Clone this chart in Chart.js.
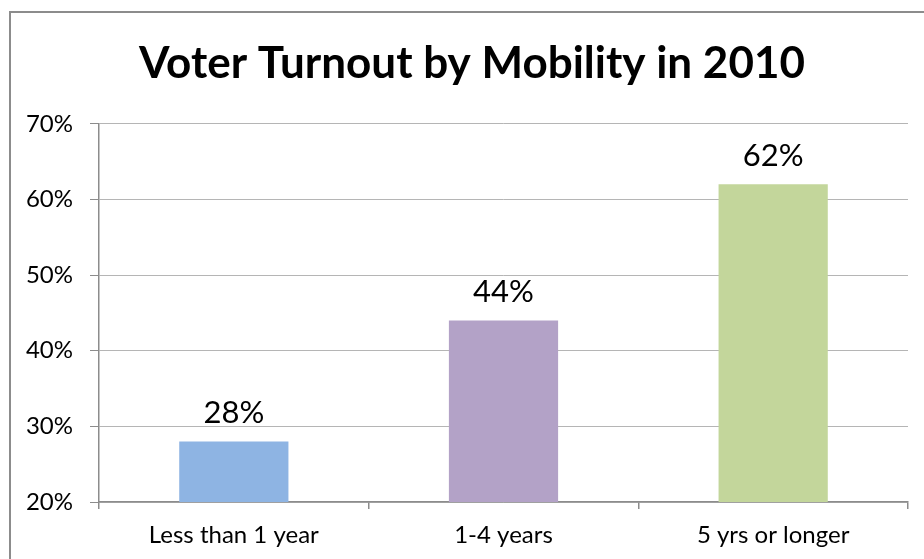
<!DOCTYPE html>
<html>
<head>
<meta charset="utf-8">
<script src="https://cdn.jsdelivr.net/npm/chart.js@4"></script>
<style>
    html, body { margin: 0; padding: 0; background: #fff; overflow: hidden; }
    #frame {
        position: absolute; left: 9px; top: 11px; width: 1000px; height: 1000px;
        border-top: 2px solid #8c8c8c; border-left: 2px solid #8c8c8c;
        pointer-events: none;
    }
    #turnout { position: absolute; left: 0; top: 0; }
</style>
</head>
<body>
<canvas id="turnout" width="924" height="559"></canvas>
<div id="frame"></div>
<script>
const categories = ['Less than 1 year', '1-4 years', '5 yrs or longer'];
const turnout = [28, 44, 62];
const barColors = ['#8EB4E3', '#B3A2C7', '#C3D69B'];
const yTicks = [20, 30, 40, 50, 60, 70];

const fontName = 'Lato, "Open Sans", sans-serif';

// value labels above each bar
const barLabels = {
    id: 'barLabels',
    afterDatasetsDraw(chart) {
        const ctx = chart.ctx;
        const meta = chart.getDatasetMeta(0);
        ctx.save();
        ctx.font = '31px ' + fontName;
        ctx.fillStyle = '#000';
        ctx.textAlign = 'center';
        ctx.textBaseline = 'alphabetic';
        meta.data.forEach((bar, i) => {
            ctx.fillText(turnout[i] + '%', bar.x, bar.y - 18);
        });
        ctx.restore();
    }
};

const ctx = document.getElementById('turnout');
new Chart(ctx, {
    type: 'bar',
    data: {
        labels: categories,
        datasets: [{
            data: turnout,
            backgroundColor: barColors,
            barPercentage: 0.405,
            categoryPercentage: 1
        }]
    },
    options: {
        responsive: false,
        animation: false,
        layout: { padding: { left: 20, right: 0 } },
        plugins: {
            legend: { display: false },
            tooltip: { enabled: false },
            title: {
                display: true,
                text: 'Voter Turnout by Mobility in 2010',
                color: '#000',
                font: { family: fontName, size: 44, weight: 'bold' },
                padding: { top: 37, bottom: 34 }
            }
        },
        scales: {
            y: {
                min: 20,
                max: 70,
                afterBuildTicks: function (scale) {
                    scale.ticks = yTicks.map(v => ({ value: v }));
                },
                afterFit: function (scale) { scale.width = 79; },
                ticks: {
                    color: '#000',
                    padding: 17,
                    font: { family: fontName, size: 24 },
                    callback: function (value) { return value + '%'; }
                },
                grid: { color: '#b5b5b5', tickLength: 9, tickColor: '#8c8c8c' },
                border: { color: '#8c8c8c', width: 1.5 }
            },
            // empty right-hand axis, only keeps room on the right
            yRight: {
                position: 'right',
                min: 20,
                max: 70,
                afterFit: function (scale) { scale.width = 16; },
                ticks: { display: false },
                grid: { display: false },
                border: { display: false }
            },
            x: {
                afterFit: function (scale) { scale.height = 57; },
                ticks: {
                    color: '#000',
                    padding: 12,
                    font: { family: fontName, size: 24 }
                },
                grid: { drawOnChartArea: false, tickLength: 7, tickColor: '#8c8c8c', lineWidth: 1.5 },
                border: { color: '#8c8c8c', width: 1.5 }
            }
        }
    },
    plugins: [barLabels]
});
</script>
</body>
</html>
